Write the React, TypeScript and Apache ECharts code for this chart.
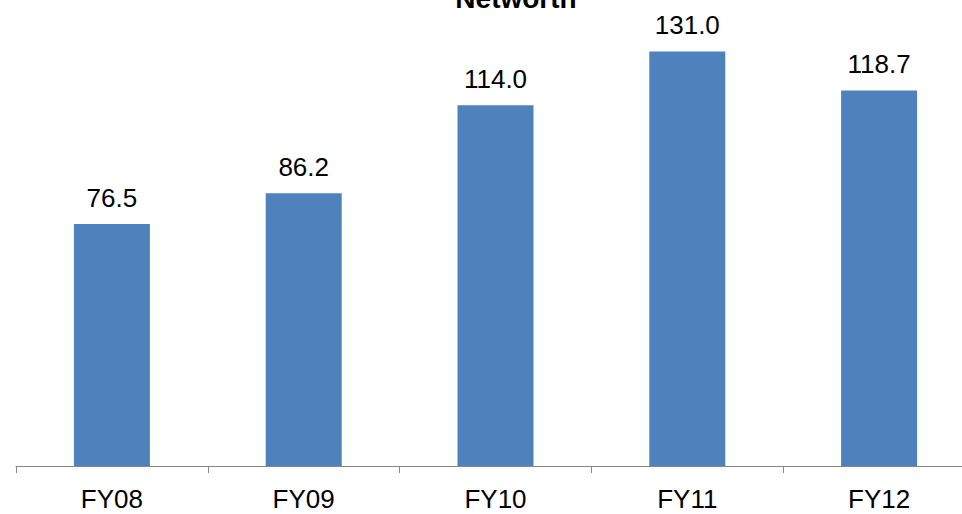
import React, { useEffect, useRef } from "react";
import * as echarts from "echarts";

const categories = ["FY08", "FY09", "FY10", "FY11", "FY12"];
const networth = [76.5, 86.2, 114.0, 131.0, 118.7];
const titleText = "Networth";

export default function App() {
  const ref = useRef<HTMLDivElement>(null);
  useEffect(() => {
    if (!ref.current) return;
    const chart = echarts.init(ref.current, null, { renderer: "svg" });
    chart.setOption({
      animation: false,
      graphic: [
        {
          type: "text",
          x: 516,
          y: -2,
          style: {
            text: titleText,
            fontFamily: "Liberation Sans, Arial",
            fontWeight: "bold",
            fontSize: 28,
            fill: "#000",
            textAlign: "center",
            textVerticalAlign: "middle",
          },
        },
      ],
      grid: { left: 16, width: 959, top: 23, height: 443, containLabel: false },
      xAxis: {
        type: "category",
        data: categories,
        axisLine: { lineStyle: { color: "#868686", width: 1 } },
        axisTick: { show: true, length: 7, lineStyle: { color: "#868686" } },
        axisLabel: { fontFamily: "Liberation Sans, Arial", fontSize: 26, color: "#000", margin: 20 },
      },
      yAxis: {
        type: "value",
        min: 0,
        max: 140,
        show: false,
        splitLine: { show: false },
      },
      series: [
        {
          type: "bar",
          data: networth,
          barWidth: 76,
          itemStyle: { color: "#4f81bd" },
          label: {
            show: true,
            position: "top",
            distance: 13,
            formatter: (p: any) => Number(p.value).toFixed(1),
            fontFamily: "Liberation Sans, Arial",
            fontSize: 26,
            color: "#000",
          },
        },
      ],
    });
    return () => chart.dispose();
  }, []);
  return (
    <div
      style={{ position: "absolute", left: 0, top: 0, width: 962, height: 514, overflow: "hidden" }}
    >
      <div ref={ref} style={{ width: 990, height: 514 }} />
    </div>
  );
}
